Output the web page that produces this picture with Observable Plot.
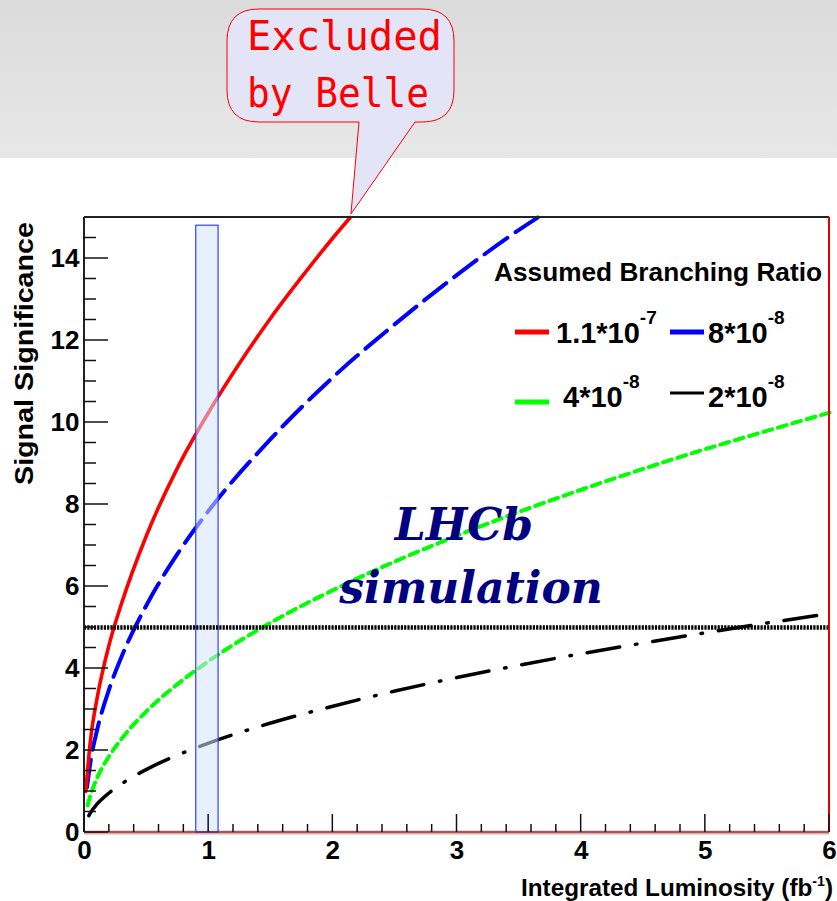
<!DOCTYPE html>
<html><head><meta charset="utf-8">
<script src="https://cdn.jsdelivr.net/npm/d3@7"></script>
<script src="https://cdn.jsdelivr.net/npm/@observablehq/plot@0.6"></script>
<style>html,body{margin:0;padding:0;background:#fff;} #chart{width:837px;height:901px;position:relative;}</style>
</head><body><div id="chart"></div>
<script>
// Integrated luminosity (fb^-1) and signal significance
const lumRed   = [0.01, 0.05, 0.1, 0.2, 0.3, 0.5, 0.75, 1, 1.25, 1.5, 1.75, 2, 2.14];
const sigRed   = [1.0, 2.3, 3.25, 4.6, 5.6, 7.25, 8.9, 10.25, 11.45, 12.55, 13.55, 14.5, 15.0];
const lumBlue  = [0.02, 0.05, 0.1, 0.2, 0.3, 0.5, 0.75, 1, 1.5, 2, 2.5, 3, 3.5, 3.65];
const sigBlue  = [1.1, 1.76, 2.48, 3.51, 4.3, 5.55, 6.8, 7.85, 9.6, 11.1, 12.4, 13.6, 14.7, 15.0];
const lumGreen = [0.025, 0.05, 0.1, 0.2, 0.3, 0.5, 0.75, 1, 1.5, 2, 2.5, 3, 3.5, 4, 4.5, 5, 5.5, 6];
const sigGreen = [0.66, 0.93, 1.32, 1.87, 2.29, 2.96, 3.62, 4.18, 5.12, 5.91, 6.61, 7.24, 7.82, 8.36, 8.87, 9.35, 9.8, 10.24];
const lumBlack = [0.035, 0.05, 0.1, 0.2, 0.3, 0.5, 0.75, 1, 1.5, 2, 2.5, 3, 3.5, 4, 4.5, 5, 5.5, 6];
const sigBlack = [0.41, 0.49, 0.69, 0.97, 1.19, 1.54, 1.89, 2.18, 2.67, 3.08, 3.45, 3.78, 4.08, 4.36, 4.62, 4.87, 5.11, 5.34];

const seriesBase = ["1.1*10", "8*10", "4*10", "2*10"];
const seriesExp  = ["-7", "-8", "-8", "-8"];
const seriesColors = ["#ff0000", "#0000ff", "#00ff00", "#000000"];

const xTicks = [0, 1, 2, 3, 4, 5, 6];
const yTicks = [0, 2, 4, 6, 8, 10, 12, 14];
const threshold = [5];
const bandLum = [0.9, 1.08];
const bandTop = 14.8;

const rows = (lum, sig) => lum.map((x, i) => ({x, y: sig[i]}));
const font = "'Liberation Sans', Arial, sans-serif";

const plot = Plot.plot({
  width: 837, height: 901,
  marginLeft: 84, marginRight: 8, marginTop: 217, marginBottom: 69,
  style: {fontFamily: font, fontSize: "26px", fontWeight: "bold", color: "#000", background: "transparent", overflow: "visible"},
  x: {domain: [0, 6], ticks: xTicks, tickFormat: d => String(d), tickSize: 0, tickPadding: 8, label: null},
  y: {domain: [0, 15], ticks: yTicks, tickFormat: d => String(d), tickSize: 0, tickPadding: 5, label: null},
  marks: [
    Plot.ruleY([0], {stroke: "#f4a4a4", strokeWidth: 4}),
    Plot.line(rows(lumGreen, sigGreen), {x: "x", y: "y", stroke: seriesColors[2], strokeWidth: 4, strokeDasharray: "9,6", curve: "monotone-x"}),
    Plot.line(rows(lumBlack, sigBlack), {x: "x", y: "y", stroke: seriesColors[3], strokeWidth: 3.5, strokeDasharray: "33,16,1.5,16", curve: "monotone-x"}),
    Plot.line(rows(lumBlue, sigBlue), {x: "x", y: "y", stroke: seriesColors[1], strokeWidth: 4, strokeDasharray: "28,10", curve: "monotone-x"}),
    Plot.line(rows(lumRed, sigRed), {x: "x", y: "y", stroke: seriesColors[0], strokeWidth: 3.6, curve: "monotone-x"}),
    Plot.rect([{x1: bandLum[0], x2: bandLum[1], y1: 0, y2: bandTop}], {x1: "x1", x2: "x2", y1: "y1", y2: "y2", fill: "#d4e3fa", fillOpacity: 0.55, stroke: "#3040ff", strokeWidth: 1.2}),
    Plot.ruleY(threshold, {stroke: "#000", strokeWidth: 4.5, strokeDasharray: "2.2,1.1"})
  ]
});

document.getElementById("chart").appendChild(plot);
const svg = d3.select(plot);
const sx = plot.scale("x"), sy = plot.scale("y");
const X = v => sx.apply(v), Y = v => sy.apply(v);

// background band with gradient
const defs = svg.insert("defs", ":first-child");
const g = defs.append("linearGradient").attr("id", "band").attr("x1", 0).attr("y1", 0).attr("x2", 0).attr("y2", 1);
g.append("stop").attr("offset", "0%").attr("stop-color", "#dbdbdb");
g.append("stop").attr("offset", "100%").attr("stop-color", "#e7e7e7");
svg.insert("rect", "defs + *").attr("x", 0).attr("y", 0).attr("width", 837).attr("height", 158).attr("fill", "url(#band)");

// frame
const fr = svg.append("g");
fr.append("line").attr("x1", X(0)).attr("x2", X(6)).attr("y1", Y(15)).attr("y2", Y(15)).attr("stroke", "#222").attr("stroke-width", 2);
fr.append("line").attr("x1", X(0)).attr("x2", X(0)).attr("y1", Y(15)).attr("y2", Y(0)).attr("stroke", "#222").attr("stroke-width", 2);
fr.append("line").attr("x1", X(0)).attr("x2", X(6)).attr("y1", Y(0)).attr("y2", Y(0)).attr("stroke", "#222").attr("stroke-width", 1.2);
fr.append("line").attr("x1", X(6)).attr("x2", X(6)).attr("y1", Y(15)).attr("y2", Y(0)).attr("stroke", "#e00000").attr("stroke-width", 2);

// inward ticks
for (let v = 0; v <= 14.51; v += 0.5) {
  const major = Math.abs(v % 2) < 1e-6;
  fr.append("line").attr("x1", X(0)).attr("x2", X(0) + (major ? 24 : 12)).attr("y1", Y(v)).attr("y2", Y(v)).attr("stroke", "#111").attr("stroke-width", 1.5);
}
for (let i = 0; i <= 30; i++) {
  const v = i * 0.2;
  const major = i % 5 === 0;
  fr.append("line").attr("x1", X(v)).attr("x2", X(v)).attr("y1", Y(0)).attr("y2", Y(0) - (major ? 18 : 8)).attr("stroke", "#111").attr("stroke-width", 1.5);
}

// axis titles
svg.append("text").attr("transform", `translate(33,${(222 + 485) / 2}) rotate(-90)`).attr("text-anchor", "middle")
  .attr("font-family", font).attr("font-weight", "bold").attr("font-size", 25).attr("textLength", 263).attr("lengthAdjust", "spacingAndGlyphs")
  .text("Signal Significance");
const xt = svg.append("text").attr("x", 833).attr("y", 896).attr("text-anchor", "end")
  .attr("font-family", font).attr("font-weight", "bold").attr("font-size", 24).attr("textLength", 312).attr("lengthAdjust", "spacingAndGlyphs");
xt.append("tspan").text("Integrated Luminosity (fb");
xt.append("tspan").attr("font-size", 14).attr("dy", -10).text("-1");
xt.append("tspan").attr("dy", 10).text(")");

// legend
const lg = svg.append("g").attr("font-family", font).attr("font-weight", "bold").attr("text-anchor", "start");
lg.append("text").attr("x", 494).attr("y", 281).attr("font-size", 26).attr("textLength", 328).attr("lengthAdjust", "spacingAndGlyphs").text("Assumed Branching Ratio");
const legPos = [
  {lx: 515, ly: 332, tx: 556, ty: 343, w: 5},
  {lx: 670, ly: 332, tx: 708, ty: 343, w: 5},
  {lx: 515, ly: 402, tx: 563, ty: 407, w: 5},
  {lx: 670, ly: 393, tx: 708, ty: 407, w: 3}
];
legPos.forEach((p, i) => {
  lg.append("line").attr("x1", p.lx).attr("x2", p.lx + 34).attr("y1", p.ly).attr("y2", p.ly).attr("stroke", seriesColors[i]).attr("stroke-width", p.w);
  const t = lg.append("text").attr("x", p.tx).attr("y", p.ty).attr("font-size", 29);
  t.append("tspan").text(seriesBase[i]);
  t.append("tspan").attr("font-size", 19).attr("dy", -19).text(seriesExp[i]);
});

// LHCb simulation
const lh = svg.append("g").attr("font-family", "'DejaVu Serif', serif").attr("font-weight", "bold").attr("font-style", "italic").attr("fill", "#000080").attr("font-size", 44).attr("text-anchor", "middle");
lh.append("text").attr("x", 464).attr("y", 540).text("LHCb");
lh.append("text").attr("x", 471).attr("y", 603).text("simulation");

// speech bubble
const L = 227, R = 454, T = 9, B = 122, r = 32;
const tail1 = 359, tail2 = 415, tipX = X(2.15), tipY = Y(15) - 3;
const d = `M${L + r},${T} H${R - r} Q${R},${T} ${R},${T + r} V${B - r} Q${R},${B} ${R - r},${B} H${tail2} L${tipX},${tipY} L${tail1},${B} H${L + r} Q${L},${B} ${L},${B - r} V${T + r} Q${L},${T} ${L + r},${T} Z`;
svg.append("path").attr("d", d).attr("fill", "#e3e4f6").attr("stroke", "#ff0000").attr("stroke-width", 1);
const bt = svg.append("g").attr("font-family", "'DejaVu Sans Mono', monospace").attr("font-weight", "normal").attr("fill", "#ff0000").attr("font-size", 40).attr("text-anchor", "start");
bt.append("text").attr("x", 247).attr("y", 50).attr("textLength", 195).attr("lengthAdjust", "spacingAndGlyphs").text("Excluded");
bt.append("text").attr("x", 247).attr("y", 107).attr("textLength", 182).attr("lengthAdjust", "spacingAndGlyphs").text("by Belle");
</script>
</body></html>
